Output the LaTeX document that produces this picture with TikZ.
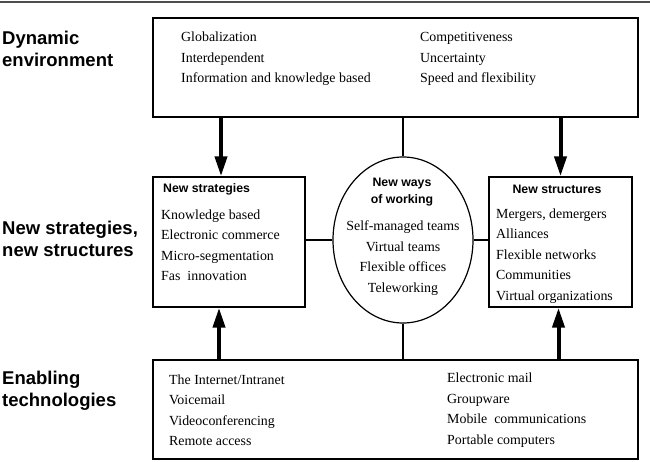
\documentclass[tikz,border=0pt]{standalone}
\usepackage{fontspec}
\setmainfont{Liberation Serif}
\setsansfont{Liberation Sans}
\usetikzlibrary{arrows.meta,shapes.geometric}
\begin{document}
\begin{tikzpicture}[x=1pt,y=-1pt,
  box/.style={draw, line width=1.4pt, inner sep=0pt},
  item/.style={font=\fontsize{13.9}{20.5}\selectfont, align=left, anchor=west, inner sep=0pt},
  head/.style={font=\fontsize{12.3}{17}\selectfont\sffamily\bfseries, align=center, inner sep=0pt},
  side/.style={font=\fontsize{18.5}{22}\selectfont\sffamily\bfseries, align=left, anchor=west, inner sep=0pt},
  link/.style={line width=2.2pt},
  push/.style={line width=4pt, -{Triangle[length=20pt,width=12pt]}}]
\useasboundingbox (0,0) rectangle (650,462);
% rule at top
\draw[black!70, line width=2pt] (0,2) -- (650,2);
% frames
\node[box, minimum width=485pt, minimum height=99pt] (env) at (395.5,67.5) {};
\node[box, minimum width=152pt, minimum height=130pt] (strat) at (229,242) {};
\node[box, minimum width=143pt, minimum height=130pt] (struct) at (560.5,242) {};
\node[box, ellipse, line width=1.2pt, minimum width=140pt, minimum height=166pt] (ways) at (403,240) {};
\node[box, minimum width=485pt, minimum height=99pt] (tech) at (395.5,409.5) {};
% row labels
\node[side] (lenv) at (2,49) {Dynamic\\environment};
\node[side] (lnew) at (2,239) {New strategies,\\new structures};
\node[side] (ltech) at (2,391) {Enabling\\technologies};
% dynamic environment
\node[item] (envl) at (181,59) {Globalization\\Interdependent\\Information and knowledge based};
\node[item] (envr) at (420,59) {Competitiveness\\Uncertainty\\Speed and flexibility};
% new strategies
\node[head, anchor=west] (strath) at (163,189) {New strategies};
\node[item] (strati) at (161,245) {Knowledge based\\Electronic commerce\\Micro-segmentation\\Fas\ \ innovation};
% new ways of working
\node[head] (waysh) at (402,192) {New ways\\of working};
\node[item, anchor=center, align=center] (waysi) at (403,258) {Self-managed teams\\Virtual teams\\Flexible offices\\Teleworking};
% new structures
\node[head] (structh) at (557,189) {New structures};
\node[item] (structi) at (496,256) {Mergers, demergers\\Alliances\\Flexible networks\\Communities\\Virtual organizations};
% enabling technologies
\node[item] (techl) at (169,410) {The Internet/Intranet\\Voicemail\\Videoconferencing\\Remote access};
\node[item] (techr) at (447,410) {Electronic mail\\Groupware\\Mobile\ \ communications\\Portable computers};
% connectors
\draw[push] ([xshift=-8pt]strat.north |- env.south) -- ([xshift=-8pt]strat.north);
\draw[push] (struct.north |- env.south) -- (struct.north);
\draw[push] ([xshift=-10pt]strat.south |- tech.north) -- ([xshift=-10pt]strat.south);
\draw[push] ([xshift=-2pt]struct.south |- tech.north) -- ([xshift=-2pt]struct.south);
\draw[link] (ways.north |- env.south) -- (ways.north);
\draw[link] (ways.south) -- (ways.south |- tech.north);
\draw[link] (strat.east |- ways.west) -- (ways.west);
\draw[link] (ways.east) -- (ways.east -| struct.west);
\end{tikzpicture}
\end{document}
